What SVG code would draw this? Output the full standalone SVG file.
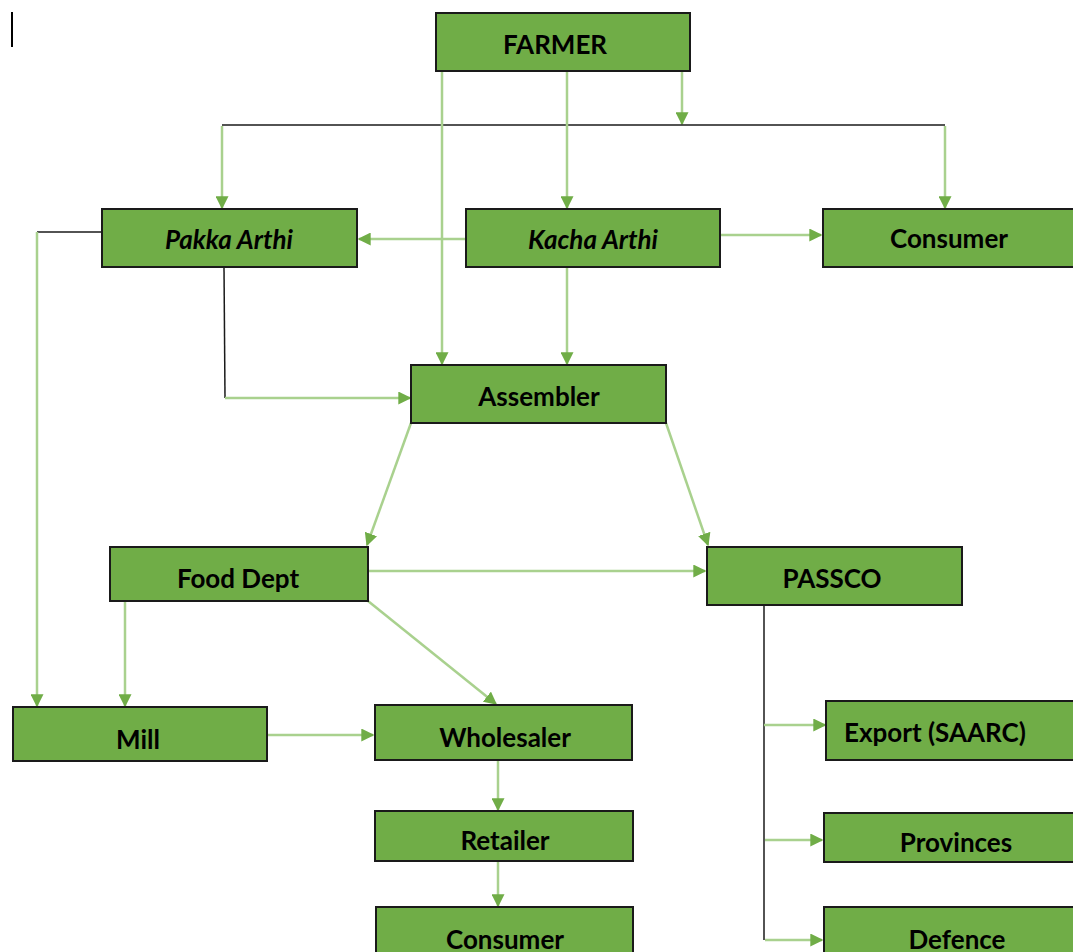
<svg xmlns="http://www.w3.org/2000/svg" width="1073" height="952" viewBox="0 0 1073 952">
<style>
.box{fill:#70AD47;stroke:#1a1a1a;stroke-width:2}
.t{font-family:Lato,"Open Sans","Liberation Sans",sans-serif;font-weight:bold;font-size:26px;fill:#000;text-anchor:middle}
.i{font-style:italic}
.g{fill:none;stroke:#A9D18E;stroke-width:2.5}
.k{fill:none;stroke:#1a1a1a;stroke-width:1.5}
</style>
<defs>
<marker id="a" viewBox="0 0 10 10" refX="9" refY="5" markerWidth="13" markerHeight="13" markerUnits="userSpaceOnUse" orient="auto">
<path d="M0,0 L10,5 L0,10 z" fill="#70AD47"/>
</marker>
</defs>
<rect width="1073" height="952" fill="#fff"/>
<line x1="12" y1="12" x2="12" y2="47" stroke="#000" stroke-width="2"/>
<g id="connectors">
<line class="g" x1="682" y1="71" x2="682" y2="124" marker-end="url(#a)"/>
<polyline class="k" points="222,125 945,125"/>
<line class="g" x1="222" y1="126" x2="222" y2="208" marker-end="url(#a)"/>
<line class="g" x1="945" y1="126" x2="945" y2="208" marker-end="url(#a)"/>
<line class="g" x1="567" y1="71" x2="567" y2="208" marker-end="url(#a)"/>
<line class="g" x1="442" y1="71" x2="442" y2="364" marker-end="url(#a)"/>
<line class="g" x1="466" y1="239" x2="359" y2="239" marker-end="url(#a)"/>
<line class="g" x1="720" y1="235" x2="821" y2="235" marker-end="url(#a)"/>
<line class="g" x1="567" y1="267" x2="567" y2="364" marker-end="url(#a)"/>
<polyline class="k" points="102,232 37,232"/>
<line class="g" x1="37" y1="232" x2="37" y2="706" marker-end="url(#a)"/>
<polyline class="k" points="224,267 225,398"/>
<line class="g" x1="225" y1="398" x2="410" y2="398" marker-end="url(#a)"/>
<line class="g" x1="411" y1="423" x2="367" y2="545" marker-end="url(#a)"/>
<line class="g" x1="666" y1="423" x2="708" y2="545" marker-end="url(#a)"/>
<line class="g" x1="368" y1="571" x2="705" y2="571" marker-end="url(#a)"/>
<line class="g" x1="125" y1="601" x2="125" y2="706" marker-end="url(#a)"/>
<line class="g" x1="368" y1="601" x2="496" y2="704" marker-end="url(#a)"/>
<line class="g" x1="267" y1="735" x2="373" y2="735" marker-end="url(#a)"/>
<line class="g" x1="498" y1="760" x2="498" y2="810" marker-end="url(#a)"/>
<line class="g" x1="498" y1="861" x2="498" y2="906" marker-end="url(#a)"/>
<polyline class="k" points="764,605 764,940"/>
<line class="g" x1="764" y1="725" x2="825" y2="725" marker-end="url(#a)"/>
<line class="g" x1="765" y1="840" x2="822" y2="840" marker-end="url(#a)"/>
<line class="g" x1="765" y1="940" x2="822" y2="940" marker-end="url(#a)"/>
</g>
<g id="farmer"><rect class="box" x="436" y="13" width="254" height="58"/><text class="t" x="555" y="54">FARMER</text></g>
<g id="pakka"><rect class="box" x="102" y="209" width="255" height="58"/><text class="t i" x="229" y="249">Pakka Arthi</text></g>
<g id="kacha"><rect class="box" x="466" y="209" width="254" height="58"/><text class="t i" x="593" y="249">Kacha Arthi</text></g>
<g id="consumer1"><rect class="box" x="823" y="209" width="260" height="58"/><text class="t" x="949" y="248">Consumer</text></g>
<g id="assembler"><rect class="box" x="411" y="365" width="255" height="58"/><text class="t" x="539" y="406">Assembler</text></g>
<g id="fooddept"><rect class="box" x="110" y="547" width="258" height="54"/><text class="t" x="238" y="588">Food Dept</text></g>
<g id="passco"><rect class="box" x="707" y="547" width="255" height="58"/><text class="t" x="832" y="588">PASSCO</text></g>
<g id="mill"><rect class="box" x="13" y="707" width="254" height="54"/><text class="t" x="138" y="749">Mill</text></g>
<g id="wholesaler"><rect class="box" x="375" y="705" width="257" height="55"/><text class="t" x="505" y="747">Wholesaler</text></g>
<g id="retailer"><rect class="box" x="375" y="811" width="258" height="50"/><text class="t" x="505" y="850">Retailer</text></g>
<g id="consumer2"><rect class="box" x="376" y="907" width="257" height="55"/><text class="t" x="505" y="949">Consumer</text></g>
<g id="export"><rect class="box" x="826" y="701" width="257" height="59"/><text class="t" x="935" y="742">Export (SAARC)</text></g>
<g id="provinces"><rect class="box" x="824" y="813" width="259" height="49"/><text class="t" x="956" y="852">Provinces</text></g>
<g id="defence"><rect class="box" x="824" y="907" width="259" height="55"/><text class="t" x="957" y="949">Defence</text></g>
</svg>
